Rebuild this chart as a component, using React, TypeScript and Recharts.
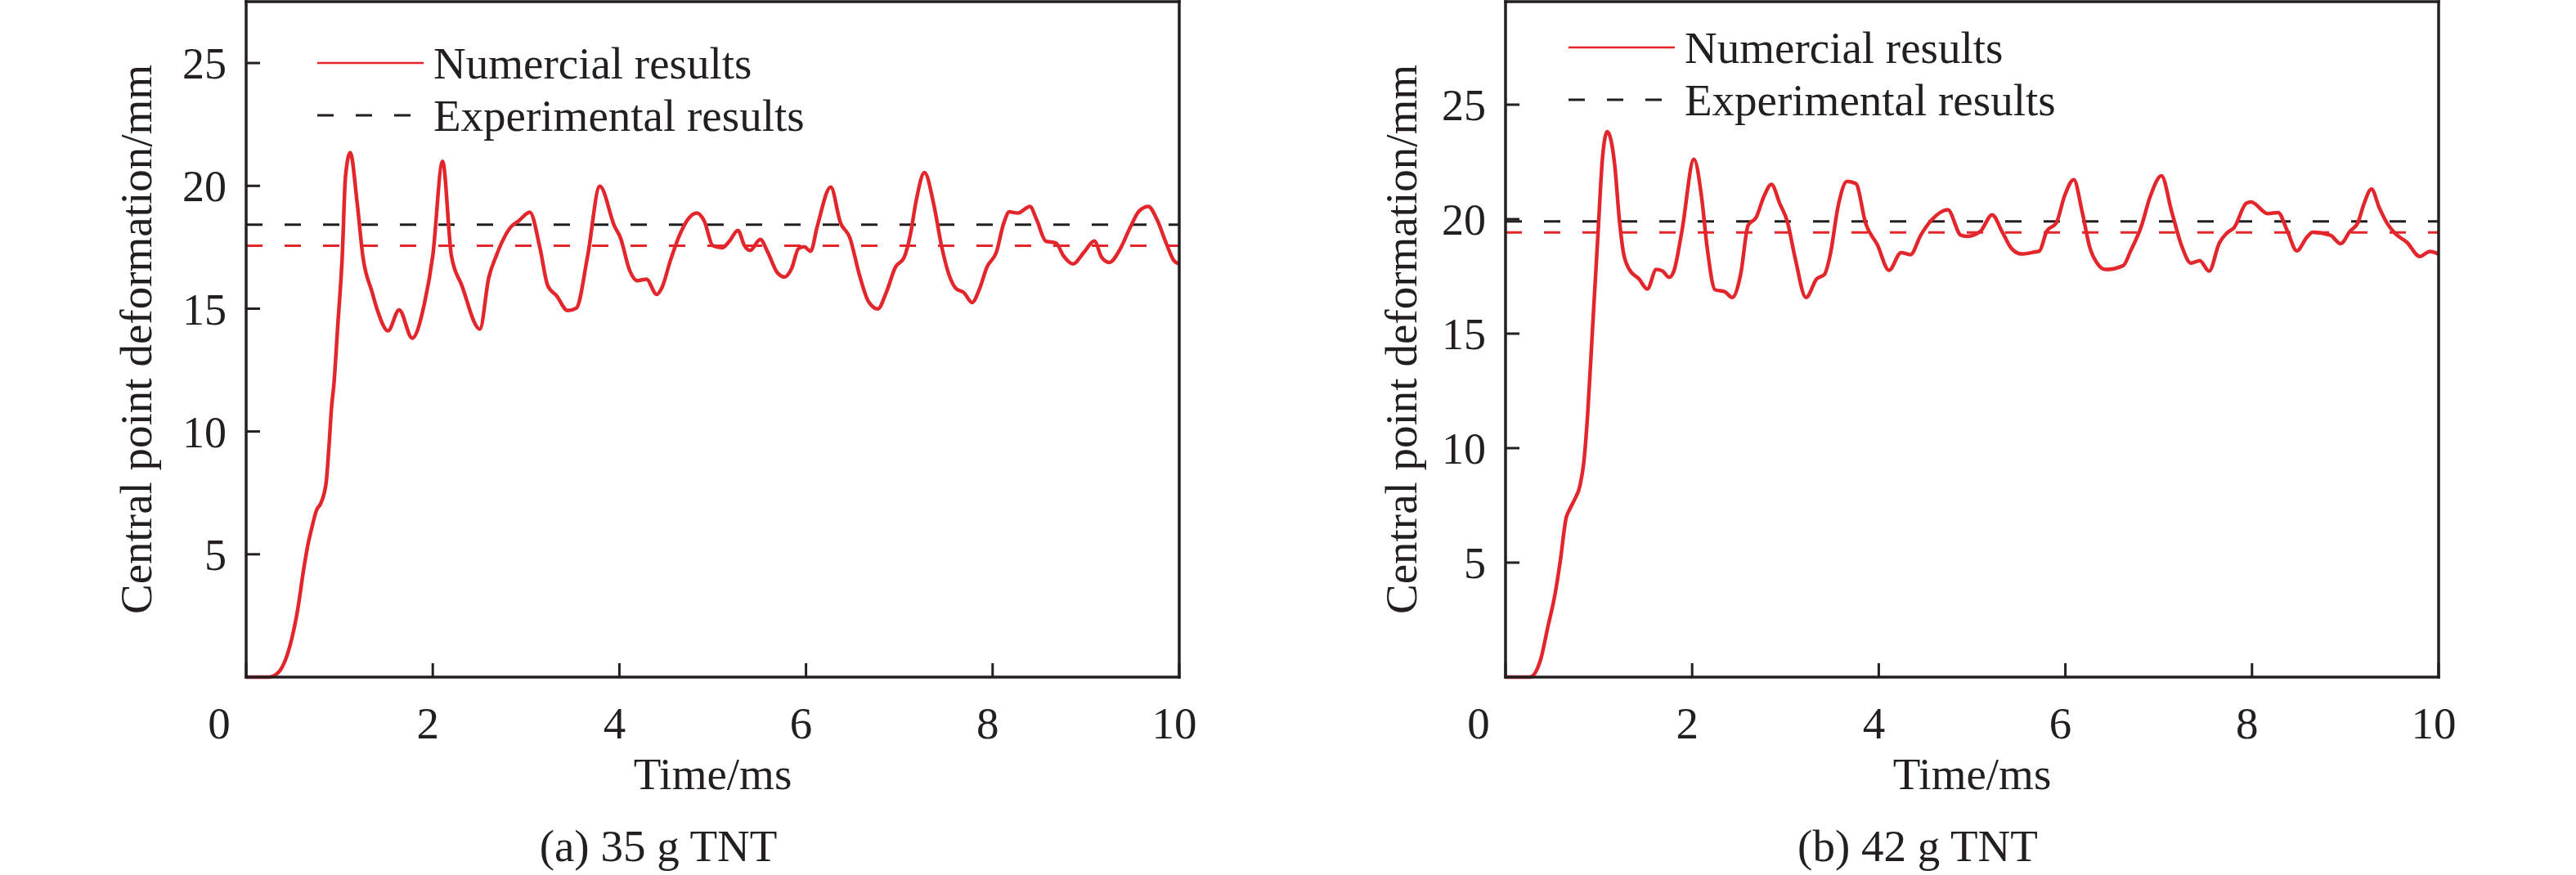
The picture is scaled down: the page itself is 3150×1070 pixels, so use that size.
import React from "react";
import { LineChart, Line, XAxis, YAxis, ReferenceLine, Legend } from "recharts";

const RED = "#e3262c";
const INK = "#231f20";
const FONT = "'Liberation Serif', 'Times New Roman', serif";

// (a) 35 g TNT, time in ms / deformation in mm
const timeA = [
  0, 0.24, 0.345, 0.42, 0.49, 0.55, 0.62, 0.66, 0.7, 0.755, 0.8, 0.857, 0.887, 0.916, 0.94, 0.98, 1.03, 1.065, 1.115,
  1.19, 1.25, 1.35, 1.41, 1.52, 1.64, 1.78, 1.91, 2.0, 2.105, 2.2, 2.31, 2.505, 2.6, 2.68, 2.84, 2.92, 3.04, 3.15,
  3.23, 3.33, 3.445, 3.54, 3.66, 3.79, 3.95, 4.01, 4.11, 4.19, 4.29, 4.4, 4.455, 4.55, 4.65, 4.75, 4.83, 4.91, 5.0,
  5.1, 5.18, 5.27, 5.34, 5.4, 5.51, 5.59, 5.69, 5.77, 5.845, 5.92, 5.98, 6.05, 6.12, 6.265, 6.37, 6.47, 6.57, 6.67,
  6.77, 6.86, 6.96, 7.05, 7.12, 7.18, 7.27, 7.37, 7.45, 7.53, 7.61, 7.69, 7.78, 7.86, 7.94, 8.04, 8.12, 8.18, 8.27,
  8.4, 8.47, 8.57, 8.68, 8.76, 8.86, 8.98, 9.09, 9.17, 9.25, 9.37, 9.47, 9.57, 9.67, 9.76, 9.86, 9.94, 10,
];
const deformA = [
  0, 0, 0.19, 0.69, 1.58, 2.69, 4.47, 5.35, 6.02, 6.8, 7.08, 7.91, 9.35, 11.02, 11.9, 14.2, 17.15, 20.4, 21.35,
  19.3, 17.15, 15.67, 14.9, 14.1, 14.95, 13.8, 15.2, 17.15, 21.0, 17.15, 15.96, 14.17, 16.26, 17.15, 18.34, 18.57,
  18.93, 17.45, 15.96, 15.51, 14.92, 15.03, 17.15, 19.98, 18.34, 17.9, 16.56, 16.14, 16.2, 15.58, 15.85, 17.0, 18.04,
  18.71, 18.89, 18.56, 17.57, 17.48, 17.75, 18.19, 17.57, 17.37, 17.82, 17.3, 16.48, 16.29, 16.63, 17.45, 17.52,
  17.34, 18.34, 19.95, 18.49, 17.89, 16.41, 15.29, 14.99, 15.66, 16.7, 17.07, 18.04, 19.38, 20.54, 19.23, 17.6,
  16.41, 15.81, 15.66, 15.25, 15.81, 16.7, 17.3, 18.49, 18.94, 18.89, 19.16, 18.64, 17.75, 17.67, 17.15, 16.82,
  17.3, 17.75, 17.08, 16.88, 17.45, 18.27, 18.97, 19.16, 18.64, 17.67, 16.97, 16.82,
];
const experimentA = 18.42;
const numericMeanA = 17.56;

// (b) 42 g TNT
const timeB = [
  0, 0.26, 0.375, 0.453, 0.53, 0.586, 0.65, 0.69, 0.736, 0.8, 0.84, 0.88, 0.93, 0.99, 1.04, 1.09, 1.17, 1.22, 1.26,
  1.32, 1.43, 1.52, 1.615, 1.68, 1.755, 1.805, 1.89, 2.02, 2.1, 2.16, 2.245, 2.35, 2.43, 2.52, 2.6, 2.685, 2.77,
  2.85, 2.94, 3.02, 3.105, 3.22, 3.335, 3.42, 3.48, 3.565, 3.66, 3.755, 3.86, 3.985, 4.11, 4.24, 4.34, 4.45, 4.57,
  4.74, 4.88, 4.955, 5.09, 5.215, 5.32, 5.425, 5.53, 5.68, 5.72, 5.8, 5.905, 5.99, 6.09, 6.18, 6.26, 6.35, 6.43,
  6.62, 6.7, 6.81, 6.91, 7.03, 7.14, 7.25, 7.345, 7.44, 7.54, 7.65, 7.73, 7.81, 7.94, 7.99, 8.17, 8.28, 8.38, 8.48,
  8.59, 8.65, 8.84, 8.95, 9.05, 9.135, 9.2, 9.28, 9.365, 9.45, 9.53, 9.66, 9.8, 9.905, 10,
];
const deformB = [
  0, 0, 0.75, 2.18, 3.61, 5.05, 6.96, 7.35, 7.72, 8.4, 9.42, 11.47, 15.04, 19.3, 22.71, 23.82, 22.37, 19.98, 18.62,
  17.85, 17.39, 16.95, 17.8, 17.74, 17.46, 17.74, 19.47, 22.62, 21.0, 18.79, 16.92, 16.83, 16.58, 17.6, 19.73,
  20.07, 21.0, 21.52, 20.67, 19.9, 18.28, 16.58, 17.39, 17.6, 18.45, 20.58, 21.65, 21.55, 19.81, 18.88, 17.77,
  18.54, 18.45, 19.3, 19.98, 20.41, 19.3, 19.25, 19.47, 20.19, 19.47, 18.71, 18.48, 18.57, 18.6, 19.47, 19.85, 21.0,
  21.72, 20.32, 18.79, 18.02, 17.8, 17.97, 18.62, 19.64, 21.0, 21.89, 20.32, 18.79, 18.08, 18.19, 17.73, 18.96,
  19.39, 19.64, 20.7, 20.75, 20.24, 20.29, 19.47, 18.62, 19.22, 19.43, 19.3, 18.93, 19.47, 19.85, 20.67, 21.31,
  20.49, 19.81, 19.39, 18.99, 18.37, 18.59, 18.48,
];
const experimentB = 19.9;
const numericMeanB = 19.42;

const xTicks = [0, 2, 4, 6, 8, 10];
const yTicks = [5, 10, 15, 20, 25];
const legendItems = [
  { name: "Numercial results", color: RED, dash: undefined, width: 2.5 },
  { name: "Experimental results", color: INK, dash: "20 27", width: 3 },
];

const textStyle = { fontFamily: FONT, fontSize: 55, fill: INK };

const renderXTick = (props: any) => {
  const { x, y, payload } = props;
  return (
    <text x={x + (payload.value === 0 ? -33 : -6)} y={y} dy="0.71em" textAnchor="middle" {...textStyle}>
      {payload.value}
    </text>
  );
};

const renderLegend = () => (
  <div style={{ fontFamily: FONT, fontSize: 55, color: INK, lineHeight: "normal" }}>
    {legendItems.map((item) => (
      <div key={item.name} style={{ display: "flex", alignItems: "center", height: 64, whiteSpace: "nowrap" }}>
        <svg width={130} height={10} style={{ marginRight: 12 }}>
          <line x1={0} y1={5} x2={130} y2={5} stroke={item.color} strokeWidth={item.width} strokeDasharray={item.dash} />
        </svg>
        <span>{item.name}</span>
      </div>
    ))}
  </div>
);

interface PanelProps {
  times: number[];
  values: number[];
  experiment: number;
  numericMean: number;
  yMax: number;
  caption: string;
  left: number;
  marginLeft: number;
  marginRight: number;
  legendLeft: number;
  legendTop: number;
  yLabelGap: number;
}

function Panel(p: PanelProps) {
  const data = p.times.map((t, i) => ({ t, v: p.values[i] }));
  const axisStyle = { stroke: INK, strokeWidth: 3.5, strokeLinecap: "square" as const };

  return (
    <div style={{ position: "absolute", left: p.left, top: 0 }}>
      <LineChart
        width={1575}
        height={1070}
        data={data}
        margin={{ top: 1, right: p.marginRight, bottom: 182, left: p.marginLeft }}
      >
        <XAxis
          dataKey="t"
          type="number"
          domain={[0, 10]}
          ticks={xTicks}
          height={60}
          axisLine={axisStyle}
          tickLine={{ stroke: INK, strokeWidth: 3 }}
          tickSize={-17}
          tickMargin={53}
          tick={renderXTick}
          label={(lp: any) => {
            const vb = lp.viewBox || {};
            const cx = vb.x + vb.width / 2;
            return (
              <g>
                <text x={cx} y={vb.y + 137} textAnchor="middle" {...textStyle}>
                  Time/ms
                </text>
                <text x={vb.x + 504} y={vb.y + 225} textAnchor="middle" {...textStyle}>
                  {p.caption}
                </text>
              </g>
            );
          }}
        />
        {/* top frame edge */}
        <XAxis
          xAxisId="top"
          orientation="top"
          type="number"
          domain={[0, 10]}
          height={1}
          tick={false}
          tickLine={false}
          axisLine={axisStyle}
        />
        <YAxis
          type="number"
          domain={[0, p.yMax]}
          ticks={yTicks}
          width={60}
          axisLine={axisStyle}
          tickLine={{ stroke: INK, strokeWidth: 3 }}
          tickSize={-17}
          tickMargin={41}
          tick={{ ...textStyle, fontSize: 54 }}
          label={(lp: any) => {
            const vb = lp.viewBox || {};
            const x = vb.x + vb.width - p.yLabelGap;
            const y = vb.y + vb.height / 2;
            return (
              <text x={x} y={y} transform={`rotate(-90 ${x} ${y})`} textAnchor="middle" {...textStyle}>
                Central point deformation/mm
              </text>
            );
          }}
        />
        {/* right frame edge */}
        <YAxis
          yAxisId="right"
          orientation="right"
          type="number"
          domain={[0, p.yMax]}
          width={1}
          tick={false}
          tickLine={false}
          axisLine={axisStyle}
        />
        <ReferenceLine y={p.experiment} stroke={INK} strokeWidth={3} strokeDasharray="20 27" />
        <ReferenceLine y={p.numericMean} stroke={RED} strokeWidth={3} strokeDasharray="20 27" />
        <Line
          dataKey="v"
          type="monotone"
          stroke={RED}
          strokeWidth={4.5}
          dot={false}
          activeDot={false}
          isAnimationActive={false}
        />
        <Legend
          layout="vertical"
          verticalAlign="middle"
          align="center"
          content={renderLegend}
          wrapperStyle={{ left: p.legendLeft, top: p.legendTop, width: "auto" }}
        />
      </LineChart>
    </div>
  );
}

export default function App() {
  return (
    <div style={{ position: "absolute", left: 0, top: 0, width: 3150, height: 1070, background: "#fff" }}>
      <Panel
        times={timeA}
        values={deformA}
        experiment={experimentA}
        numericMean={numericMeanA}
        yMax={27.5}
        caption="(a) 35 g TNT"
        left={0}
        marginLeft={241}
        marginRight={132}
        legendLeft={388}
        legendTop={45}
        yLabelGap={116}
      />
      <Panel
        times={timeB}
        values={deformB}
        experiment={experimentB}
        numericMean={numericMeanB}
        yMax={29.5}
        caption="(b) 42 g TNT"
        left={1575}
        marginLeft={206}
        marginRight={167}
        legendLeft={343}
        legendTop={26}
        yLabelGap={109}
      />
    </div>
  );
}
